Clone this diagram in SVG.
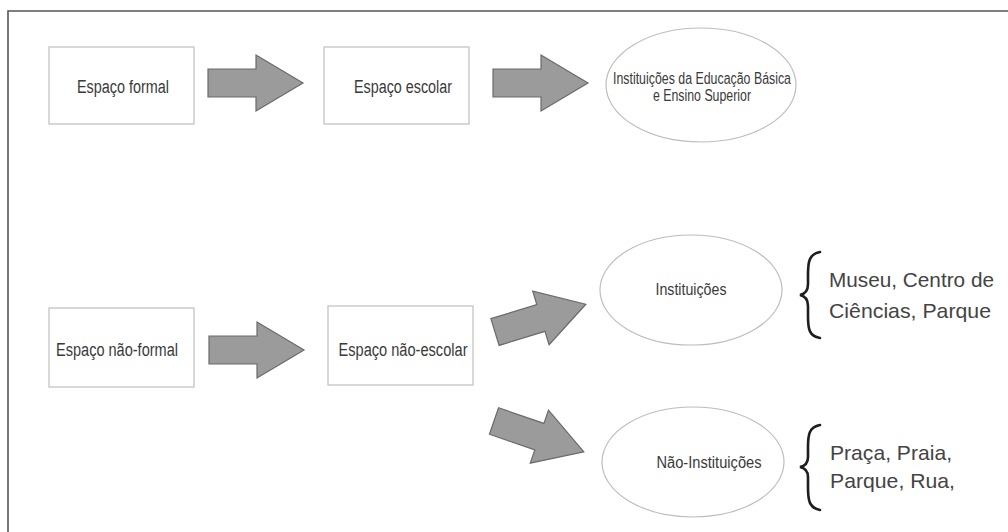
<svg xmlns="http://www.w3.org/2000/svg" width="1008" height="532" viewBox="0 0 1008 532">
<style>
.box{fill:#fff;stroke:#c4c4c4;stroke-width:1.3}
.ell{fill:#fff;stroke:#bdbdbd;stroke-width:1.2}
.t{font-family:"Liberation Sans",Arial,sans-serif;fill:#3a3a3a;text-anchor:middle}
.tb{font-size:18px}
.te{font-size:16px}
.side{font-family:"Liberation Sans",Arial,sans-serif;fill:#444;font-size:21px}
.arr{fill:#9b9b9b;stroke:#6a6a6a;stroke-width:1.2;stroke-linejoin:miter}
.brace{fill:none;stroke:#1e1e1e;stroke-width:2.6;stroke-linecap:round}
</style>
<defs>
<path id="arrow" d="M0,-14 L48,-14 L48,-28 L95,0 L48,28 L48,14 L0,14 Z"/>
</defs>
<rect x="0" y="0" width="1008" height="532" fill="#fff"/>
<path d="M8,532 L8,11 L1008,11" fill="none" stroke="#555" stroke-width="1.6"/>

<g id="connectors">
<use href="#arrow" class="arr" transform="translate(208,83)"/>
<use href="#arrow" class="arr" transform="translate(493,83)"/>
<use href="#arrow" class="arr" transform="translate(209,350)"/>
<use href="#arrow" class="arr" transform="translate(495,332) rotate(-17)"/>
<use href="#arrow" class="arr" transform="translate(494,421) rotate(19)"/>
</g>

<g id="espaco-formal">
<rect class="box" x="49" y="47" width="145" height="77"/>
<text class="t tb" x="123" y="93" textLength="92" lengthAdjust="spacingAndGlyphs">Espaço formal</text>
</g>
<g id="espaco-escolar">
<rect class="box" x="324" y="47" width="145" height="77"/>
<text class="t tb" x="403" y="93" textLength="98" lengthAdjust="spacingAndGlyphs">Espaço escolar</text>
</g>
<g id="instituicoes-educacao">
<ellipse class="ell" cx="701" cy="85" rx="95" ry="57"/>
<text class="t te" x="702" y="84" textLength="178" lengthAdjust="spacingAndGlyphs">Instituições da Educação Básica</text>
<text class="t te" x="702" y="101" textLength="98" lengthAdjust="spacingAndGlyphs">e Ensino Superior</text>
</g>

<g id="espaco-nao-formal">
<rect class="box" x="49" y="308" width="145" height="79"/>
<text class="t tb" x="117" y="356" textLength="122" lengthAdjust="spacingAndGlyphs">Espaço não-formal</text>
</g>
<g id="espaco-nao-escolar">
<rect class="box" x="328" y="306" width="145" height="79"/>
<text class="t tb" x="403" y="356" textLength="129" lengthAdjust="spacingAndGlyphs">Espaço não-escolar</text>
</g>
<g id="instituicoes">
<ellipse class="ell" cx="691" cy="290" rx="91" ry="55"/>
<text class="t te" x="691" y="295" textLength="71" lengthAdjust="spacingAndGlyphs">Instituições</text>
</g>
<g id="nao-instituicoes">
<ellipse class="ell" cx="693" cy="462" rx="91" ry="55"/>
<text class="t te" x="709" y="468" textLength="105" lengthAdjust="spacingAndGlyphs">Não-Instituições</text>
</g>

<g id="lista-instituicoes">
<path class="brace" d="M820,252 C809,254 808,262 808,275 L808,284 C808,291 805,294 800,295 C805,296 808,299 808,306 L808,316 C808,329 809,336 820,338"/>
<text class="side" x="829" y="287" textLength="165" lengthAdjust="spacingAndGlyphs">Museu, Centro de</text>
<text class="side" x="829" y="318" textLength="162" lengthAdjust="spacingAndGlyphs">Ciências, Parque</text>
</g>
<g id="lista-nao-instituicoes">
<path class="brace" d="M820,425 C809,427 808,435 808,447 L808,457 C808,463 805,466 800,467 C805,468 808,471 808,477 L808,487 C808,500 809,508 820,510"/>
<text class="side" x="830" y="460" textLength="122" lengthAdjust="spacingAndGlyphs">Praça, Praia,</text>
<text class="side" x="830" y="488" textLength="125" lengthAdjust="spacingAndGlyphs">Parque, Rua,</text>
</g>
</svg>
